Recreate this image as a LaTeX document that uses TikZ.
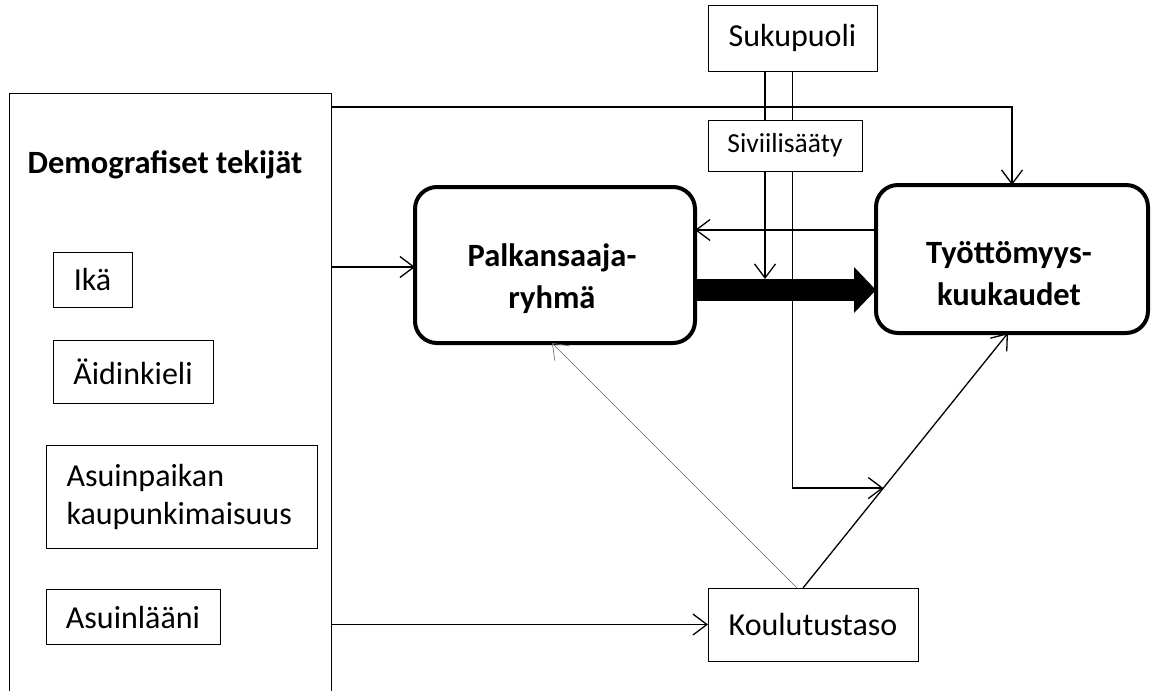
\documentclass[tikz,border=0pt]{standalone}
\usepackage{fontspec}
\setmainfont{Carlito}
\usetikzlibrary{arrows.meta,calc}
\begin{document}
\begin{tikzpicture}[x=1pt,y=-1pt,
  every node/.style={outer sep=0pt, inner sep=0pt},
  plain/.style={draw, line width=1pt, fill=white, font=\fontsize{32}{38}\selectfont, align=center},
  roundbox/.style={draw, line width=4pt, rounded corners=22pt, fill=white},
  boldtxt/.style={font=\fontsize{32.5}{42}\selectfont\bfseries, align=center},
  conn/.style={line width=1.3pt, -{Straight Barb[length=14pt,width=21pt]}},
  thinconn/.style={line width=0.6pt, draw=gray!80!black, -{Straight Barb[length=14pt,width=21pt]}},
  fat/.style={line width=22pt, -{Triangle[length=22pt,width=46pt,line width=0pt]}}
]
\useasboundingbox (0,0) rectangle (1152,691);
\clip (0,0) rectangle (1152,691);
\fill[white] (0,0) rectangle (1152,691);

% left container
\node[draw, line width=1pt, minimum width=322pt, minimum height=640pt, anchor=north west] (demo) at (9,93) {};
\node[boldtxt, anchor=base] (demotitle) at (165,173) {Demografiset tekijät};
\node[plain, minimum width=79pt, minimum height=55pt] (ika) at (92.5,280) {Ikä};
\node[plain, minimum width=160pt, minimum height=63pt] (aidinkieli) at (133,372) {Äidinkieli};
\node[plain, minimum width=271pt, minimum height=103pt, text width=230pt, inner xsep=20.5pt, align=left] (asuinpaikka) at (181.5,497) {Asuinpaikan\\kaupunkimaisuus};
\node[plain, minimum width=174pt, minimum height=55pt] (laani) at (133,617) {Asuinlääni};

% other nodes
\node[plain, minimum width=169pt, minimum height=66pt] (suku) at (792.5,38) {Sukupuoli};
\node[roundbox, minimum width=280pt, minimum height=156pt] (P) at (555,265) {};
\node[boldtxt] (Ptxt) at (552,279) {Palkansaaja-\\ryhmä};
\node[roundbox, minimum width=272pt, minimum height=148pt] (T) at (1012,259) {};
\node[boldtxt] (Ttxt) at (1009,274) {Työttömyys-\\kuukaudet};
\node[plain, minimum width=210pt, minimum height=73pt] (K) at (813,624.5) {Koulutustaso};

% helper coordinates
\coordinate (ks) at ([xshift=-10pt]K.north);
\coordinate (te) at ([xshift=-4pt]T.south);
\path (ks) -- (te) coordinate[pos=0.392] (m2);
\coordinate (m1) at (765,279);

% connectors
\draw[conn] (demo.east |- 0,267) -- (P.west |- 0,267);
\draw[conn] (demo.east |- 0,107) -| (T.north);
\draw[conn] (demo.east |- K.west) -- (K.west);
\draw[conn] (T.west |- 0,230) -- (P.east |- 0,230);
\draw[fat] (P.east |- 0,290) -- (T.west |- 0,290);
\draw[conn] (ks) -- (te);
\draw[thinconn] ([xshift=-16pt]K.north) -- ([xshift=-3pt]P.south);
\draw[conn] (suku.south -| m1) -- (m1);
\draw[conn] (suku.south) |- (m2);

\node[plain, minimum width=154pt, minimum height=51pt, font=\fontsize{27.5}{30}\selectfont] (sivi) at (785,145.5) {Siviilisääty};
\end{tikzpicture}
\end{document}
